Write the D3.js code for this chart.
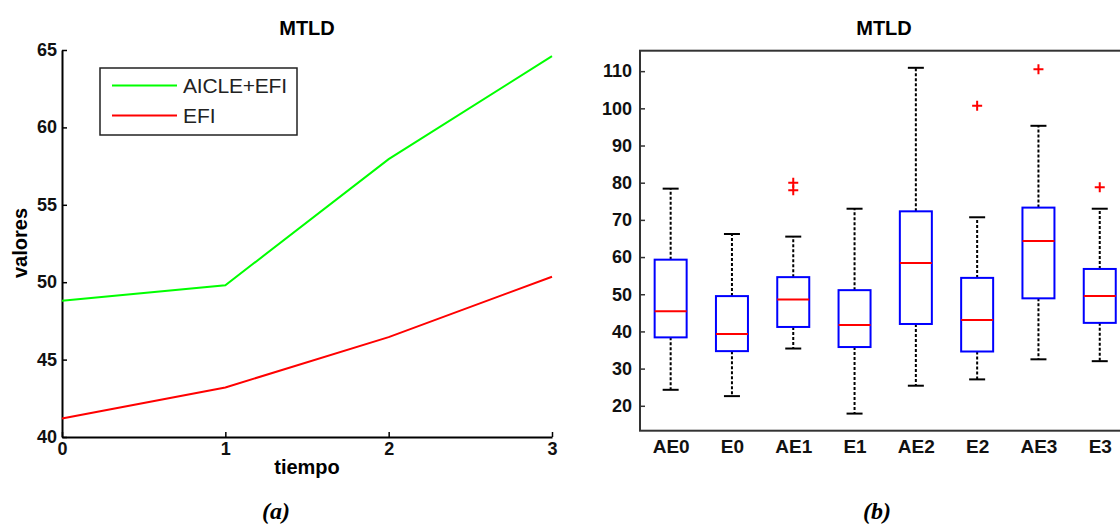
<!DOCTYPE html>
<html>
<head>
<meta charset="utf-8">
<script src="https://cdn.jsdelivr.net/npm/d3@7/dist/d3.min.js"></script>
<style>
  html, body { margin: 0; padding: 0; background: #fff; }
  svg { display: block; }
  text { font-family: "Liberation Sans", Arial, sans-serif; }
</style>
</head>
<body>
<svg id="chart" width="1120" height="525"></svg>
<script>
// ---------- Data: panel (a) ----------
const tiempo = [0, 1, 2, 3];
const aicleEfi = [48.8, 49.8, 57.95, 64.6];
const efi = [41.2, 43.2, 46.45, 50.35];
const seriesNames = ["AICLE+EFI", "EFI"];
const leftYTicks = [40, 45, 50, 55, 60, 65];
const leftXTicks = [0, 1, 2, 3];

// ---------- Data: panel (b) ----------
const groups = ["AE0", "E0", "AE1", "E1", "AE2", "E2", "AE3", "E3"];
const whiskerLow  = [24.3, 22.6, 35.4, 17.9, 25.4, 27.1, 32.5, 32.0];
const q1          = [38.4, 34.7, 41.2, 35.8, 42.0, 34.6, 48.9, 42.3];
const medians     = [45.4, 39.3, 48.6, 41.7, 58.4, 43.1, 64.3, 49.5];
const q3          = [59.3, 49.5, 54.6, 51.1, 72.3, 54.4, 73.3, 56.8];
const whiskerHigh = [78.4, 66.2, 65.5, 73.0, 110.9, 70.7, 95.3, 73.0];
const outlierGroup = ["AE1", "AE1", "E2", "AE3", "E3"];
const outlierValue = [80.0, 78.0, 100.7, 110.5, 78.8];
const rightYTicks = [20, 30, 40, 50, 60, 70, 80, 90, 100, 110];

const svg = d3.select("#chart");
const FONT = "'Liberation Sans', Arial, sans-serif";

// ================= Panel (a) =================
const A = { left: 62, right: 552, top: 50, bottom: 437 };
const xA = d3.scaleLinear().domain([0, 3]).range([A.left, A.right]);
const yA = d3.scaleLinear().domain([40, 65]).range([A.bottom, A.top]);

const gA = svg.append("g");

const axA_y = gA.append("g").attr("transform", `translate(${A.left},0)`)
  .call(d3.axisLeft(yA).tickValues(leftYTicks).tickFormat(d3.format("d"))
    .tickSizeInner(-5).tickSizeOuter(0).tickPadding(5));
const axA_x = gA.append("g").attr("transform", `translate(0,${A.bottom})`)
  .call(d3.axisBottom(xA).tickValues(leftXTicks).tickFormat(d3.format("d"))
    .tickSizeInner(-5).tickSizeOuter(0).tickPadding(5));
[axA_y, axA_x].forEach(ax => {
  ax.select(".domain").attr("stroke", "#000").attr("stroke-width", 2);
  ax.selectAll(".tick line").attr("stroke", "#000").attr("stroke-width", 1.5);
  ax.selectAll(".tick text").attr("font-size", 18).attr("font-weight", "bold")
    .attr("fill", "#111").attr("font-family", FONT);
});
axA_y.selectAll(".tick text").attr("dy", "0.3em");

const lineA = d3.line().x((d, i) => xA(tiempo[i])).y(d => yA(d));
gA.append("path").datum(aicleEfi).attr("d", lineA)
  .attr("fill", "none").attr("stroke", "#00ff00").attr("stroke-width", 2);
gA.append("path").datum(efi).attr("d", lineA)
  .attr("fill", "none").attr("stroke", "#ff0000").attr("stroke-width", 2);

// legend
const leg = gA.append("g");
leg.append("rect").attr("x", 100).attr("y", 68).attr("width", 197).attr("height", 67)
  .attr("fill", "#fff").attr("stroke", "#222").attr("stroke-width", 1.5);
const legColors = ["#00ff00", "#ff0000"];
seriesNames.forEach((name, i) => {
  const yy = 85.5 + i * 30;
  leg.append("line").attr("x1", 112).attr("x2", 177).attr("y1", yy).attr("y2", yy)
    .attr("stroke", legColors[i]).attr("stroke-width", 2);
  leg.append("text").attr("x", 183).attr("y", yy + 7.5).attr("font-size", 21)
    .attr("fill", "#222").attr("textLength", i === 0 ? 104 : null).text(name);
});

// titles
gA.append("text").attr("x", 307).attr("y", 35).attr("text-anchor", "middle")
  .attr("font-size", 20).attr("font-weight", "bold").text("MTLD");
gA.append("text").attr("x", 307).attr("y", 474).attr("text-anchor", "middle")
  .attr("font-size", 20).attr("font-weight", "bold").text("tiempo");
gA.append("text").attr("transform", "translate(27,243) rotate(-90)").attr("text-anchor", "middle")
  .attr("font-size", 20).attr("font-weight", "bold").text("valores");
gA.append("text").attr("x", 276).attr("y", 519).attr("text-anchor", "middle")
  .attr("font-size", 24).attr("font-weight", "bold").attr("font-style", "italic")
  .style("font-family", "'Liberation Serif', 'Times New Roman', serif").text("(a)");

// ================= Panel (b) =================
const B = { left: 640, top: 50.7, bottom: 430.7 };
const step = 61.3;
const xB = d3.scaleLinear().domain([0.5, 8.5]).range([B.left, B.left + step * 8]);
const yB = d3.scaleLinear().domain([13.3, 115.5]).range([B.bottom, B.top]);
const pos = g => xB(groups.indexOf(g) + 1);

const gB = svg.append("g");
gB.append("rect").attr("x", B.left).attr("y", B.top)
  .attr("width", step * 8).attr("height", B.bottom - B.top)
  .attr("fill", "none").attr("stroke", "#333").attr("stroke-width", 2);

const axB_y = gB.append("g").attr("transform", `translate(${B.left},0)`)
  .call(d3.axisLeft(yB).tickValues(rightYTicks).tickSizeInner(-5).tickSizeOuter(0).tickPadding(8));
axB_y.select(".domain").remove();
axB_y.selectAll(".tick line").attr("stroke", "#333").attr("stroke-width", 1.5);
axB_y.selectAll(".tick text").attr("font-size", 18).attr("font-weight", "bold")
  .attr("fill", "#111").attr("font-family", FONT);

const axB_x = gB.append("g").attr("transform", `translate(0,${B.bottom})`)
  .call(d3.axisBottom(xB).tickValues(groups.map((g, i) => i + 1))
    .tickFormat((d) => groups[d - 1]).tickSize(0).tickPadding(9));
axB_x.select(".domain").remove();
axB_x.selectAll(".tick text").attr("font-size", 19).attr("font-weight", "bold")
  .attr("fill", "#111").attr("font-family", FONT);

const boxHalf = 16;
const capHalf = 8;
groups.forEach((g, i) => {
  const cx = pos(g);
  gB.append("line").attr("x1", cx).attr("x2", cx).attr("y1", yB(q3[i])).attr("y2", yB(whiskerHigh[i]))
    .attr("stroke", "#000").attr("stroke-width", 2).attr("stroke-dasharray", "3,2");
  gB.append("line").attr("x1", cx).attr("x2", cx).attr("y1", yB(q1[i])).attr("y2", yB(whiskerLow[i]))
    .attr("stroke", "#000").attr("stroke-width", 2).attr("stroke-dasharray", "3,2");
  [whiskerHigh[i], whiskerLow[i]].forEach(v => {
    gB.append("line").attr("x1", cx - capHalf).attr("x2", cx + capHalf).attr("y1", yB(v)).attr("y2", yB(v))
      .attr("stroke", "#000").attr("stroke-width", 2);
  });
  gB.append("rect").attr("x", cx - boxHalf).attr("y", yB(q3[i]))
    .attr("width", boxHalf * 2).attr("height", yB(q1[i]) - yB(q3[i]))
    .attr("fill", "none").attr("stroke", "#0000ff").attr("stroke-width", 2);
  gB.append("line").attr("x1", cx - boxHalf).attr("x2", cx + boxHalf)
    .attr("y1", yB(medians[i])).attr("y2", yB(medians[i]))
    .attr("stroke", "#ff0000").attr("stroke-width", 2);
});

outlierGroup.forEach((g, i) => {
  const cx = pos(g), cy = yB(outlierValue[i]);
  gB.append("path").attr("d", `M${cx - 5},${cy}H${cx + 5}M${cx},${cy - 5}V${cy + 5}`)
    .attr("stroke", "#ff0000").attr("stroke-width", 2).attr("fill", "none");
});

gB.append("text").attr("x", 884).attr("y", 35).attr("text-anchor", "middle")
  .attr("font-size", 20).attr("font-weight", "bold").text("MTLD");
gB.append("text").attr("x", 877).attr("y", 519).attr("text-anchor", "middle")
  .attr("font-size", 24).attr("font-weight", "bold").attr("font-style", "italic")
  .style("font-family", "'Liberation Serif', 'Times New Roman', serif").text("(b)");
</script>
</body>
</html>
